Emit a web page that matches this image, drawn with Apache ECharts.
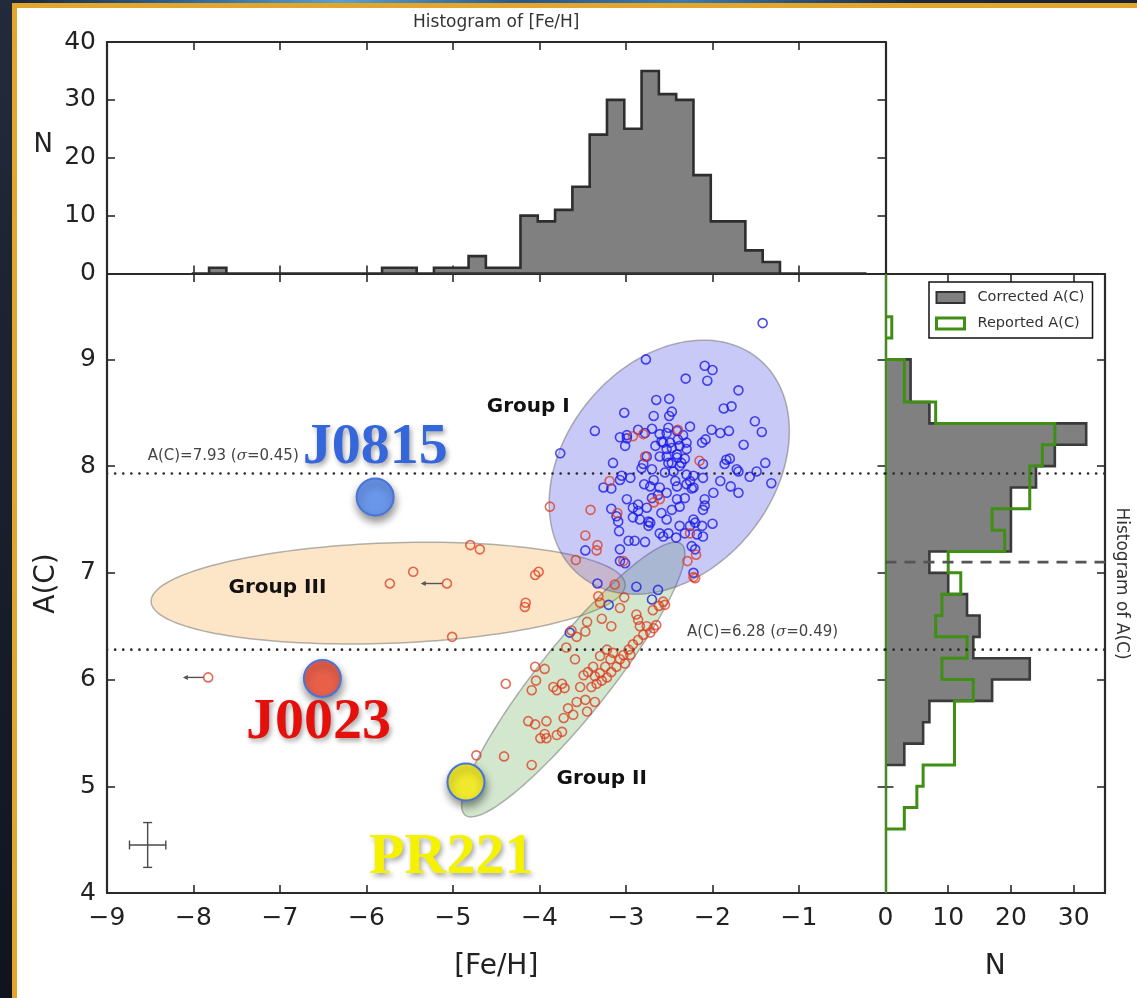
<!DOCTYPE html>
<html>
<head>
<meta charset="utf-8">
<title>A(C) vs [Fe/H]</title>
<script src="https://cdn.jsdelivr.net/npm/echarts@6/dist/echarts.min.js"></script>
<style>
html,body{margin:0;padding:0;width:1137px;height:998px;overflow:hidden;background:#131a27;}
#band{position:absolute;left:0;top:0;width:1137px;height:5px;background:linear-gradient(90deg,#1a2232 0%,#2f6494 16%,#5aa0d0 30%,#2a5684 46%,#3d7bb0 60%,#1c2a40 80%,#1a2232 100%);}
#side{position:absolute;left:0;top:0;width:13px;height:998px;background:linear-gradient(180deg,#222b3c 0%,#161d2b 60%,#0f1420 100%);}
#panel{position:absolute;left:12px;top:3px;right:0;bottom:0;background:#fff;border-left:5px solid #e2a62c;border-top:5px solid #e2a62c;}
#chart{position:absolute;left:0;top:0;width:1137px;height:998px;}
</style>
</head>
<body>
<div id="band"></div>
<div id="side"></div>
<div id="panel"></div>
<div id="chart"></div>
<script>
// ---- axis ticks ----
const feHTicks = [-9, -8, -7, -6, -5, -4, -3, -2, -1, 0];
const feHLabels = [-9, -8, -7, -6, -5, -4, -3, -2, -1];
const acTicks = [4, 5, 6, 7, 8, 9];
const nTicksTop = [0, 10, 20, 30, 40];
const nTicksRight = [0, 10, 20, 30];

// ---- [Fe/H] histogram (bin start, width, counts) ----
const feHBinStart = -8.02;
const feHBinWidth = 0.2;
const feHCounts = [0, 1, 0, 0, 0, 0, 0, 0, 0, 0, 0, 1, 1, 0, 1, 1, 3, 1, 1,
  10, 9, 11, 15, 24, 30, 25, 35, 31, 30, 17, 9, 9, 4, 2, 0, 0, 0, 0, 0];

// ---- A(C) histograms ----
const acBinStart = 4.0;
const acBinWidth = 0.2;
const acCorrected = [0, 0, 0, 0, 0, 0, 3, 6, 7, 17, 23, 14, 15, 13, 10, 7, 20, 20, 20, 24, 27, 32, 7, 4, 4, 0, 0, 0, 0];
const acReported = [0, 0, 0, 3, 5, 6, 11, 11, 11, 14, 9, 13, 8, 9, 12, 10, 19, 17, 23, 23, 25, 27, 8, 3, 3, 0, 1, 0, 0];

// ---- reference levels ----
const acMeans = [7.93, 6.28];
const acSigmas = [0.45, 0.49];
const acDivide = 7.1;

// ---- group regions: centre and two semi-axis vectors, in data units ----
const groupNames = ['Group I', 'Group II', 'Group III'];
const groupCenter = [[-2.50, 7.99], [-3.61, 6.00], [-5.75, 6.81]];
const groupAxisU = [[1.04, 1.01], [1.25, 1.27], [2.74, 0.08]];
const groupAxisV = [[-0.92, 0.63], [-0.32, 0.21], [-0.02, 0.47]];

// ---- stars: [Fe/H], A(C) ----
const starsBlue = [
  [-1.42,9.34],[-2.77,9.00],[-2.09,8.94],[-2.00,8.90],[-2.31,8.82],[-2.06,8.80],[-1.70,8.71],[-2.65,8.62],[-2.50,8.63],
  [-1.87,8.54],[-1.78,8.56],[-3.02,8.50],[-2.68,8.47],[-2.50,8.47],[-2.47,8.51],[-1.51,8.42],[-3.36,8.33],[-2.26,8.37],
  [-2.01,8.34],[-1.91,8.31],[-1.81,8.33],[-1.43,8.32],[-2.86,8.34],[-2.70,8.35],[-3.07,8.27],[-2.99,8.29],[-2.61,8.30],
  [-2.53,8.31],[-2.41,8.33],[-2.34,8.29],[-1.64,8.20],[-2.12,8.22],[-2.08,8.25],[-3.01,8.19],[-2.57,8.22],[-2.47,8.17],
  [-2.38,8.19],[-3.76,8.12],[-2.76,8.09],[-2.53,8.09],[-2.41,8.11],[-2.32,8.07],[-1.80,8.07],[-1.39,8.03],[-3.15,8.03],
  [-2.80,8.02],[-2.51,8.03],[-2.36,8.03],[-2.11,8.02],[-1.86,8.02],[-1.70,7.95],[-1.57,7.90],[-1.32,7.84],[-3.26,7.80],
  [-3.17,7.79],[-3.07,7.87],[-2.95,7.89],[-2.79,7.83],[-2.68,7.87],[-2.43,7.86],[-2.26,7.86],[-2.24,7.79],[-2.11,7.89],
  [-1.91,7.86],[-1.79,7.81],[-1.70,7.75],[-2.61,7.80],[-2.53,7.75],[-2.41,7.81],[-2.99,7.69],[-2.70,7.70],[-2.41,7.69],
  [-2.32,7.70],[-2.09,7.69],[-1.99,7.75],[-3.17,7.60],[-2.92,7.61],[-2.86,7.58],[-2.76,7.61],[-2.59,7.56],[-2.47,7.59],
  [-2.38,7.62],[-2.11,7.59],[-2.09,7.63],[-3.09,7.48],[-2.92,7.52],[-2.74,7.48],[-2.53,7.50],[-2.22,7.50],[-2.00,7.46],
  [-3.08,7.39],[-2.74,7.44],[-2.61,7.37],[-2.38,7.44],[-2.32,7.37],[-2.97,7.30],[-2.90,7.30],[-2.78,7.29],[-2.57,7.34],
  [-2.42,7.33],[-2.11,7.34],[-3.47,7.21],[-2.20,7.22],[-3.01,7.09],[-3.33,6.90],[-2.88,6.87],[-2.22,7.00],
  [-2.99,8.26],[-2.78,8.31],[-2.51,8.36],[-2.59,8.23],[-2.49,8.22],[-2.40,8.25],[-2.30,8.22],[-2.66,8.19],[-2.53,8.16],
  [-2.30,8.16],[-2.61,8.09],[-2.41,8.08],[-2.47,8.03],[-2.38,8.00],[-2.82,7.98],[-2.70,7.97],[-2.55,7.94],[-2.45,7.95],
  [-2.30,7.92],[-2.22,7.91],[-3.05,7.91],[-2.72,7.81],[-2.30,7.83],[-2.22,7.80],[-2.86,7.64],[-2.63,7.73],[-3.11,7.53],
  [-2.84,7.50],[-2.72,7.47],[-2.20,7.47],[-2.51,7.37],[-2.26,7.44],[-2.18,7.36],[-2.12,7.44],[-1.84,8.06],[-1.72,7.97],
  [-1.49,7.95],[-3.07,7.11],[-2.63,6.84],[-2.70,6.75],[-3.20,6.70],[-3.65,6.44],[-3.07,7.22],[-2.24,7.25]
];
const starsRed = [
  [-3.88,7.62],[-3.41,7.59],[-3.47,7.35],[-3.33,7.26],[-3.34,7.21],[-3.58,7.12],[-3.03,7.11],[-3.19,7.86],[-3.10,7.56],
  [-2.68,7.66],[-2.61,7.69],[-2.78,8.09],[-2.15,8.05],[-2.40,8.34],[-2.92,8.28],[-2.80,8.30],[-2.26,7.37],[-2.19,7.17],
  [-2.29,7.11],[-2.22,6.96],[-4.05,6.98],[-4.01,7.01],[-3.13,6.89],[-4.80,7.26],[-4.69,7.22],[-4.16,6.72],[-4.17,6.68],
  [-5.01,6.40],[-5.46,7.01],[-5.73,6.90],[-5.07,6.90],[-7.83,6.02],[-4.73,5.29],[-4.41,5.28],[-4.09,5.20],
  [-2.20,6.95],[-3.30,6.72],[-3.32,6.78],[-3.07,6.67],[-3.02,6.77],[-2.88,6.61],[-2.86,6.56],[-2.69,6.65],[-2.62,6.69],
  [-2.55,6.70],[-2.57,6.73],[-3.45,6.54],[-3.28,6.57],[-3.63,6.46],[-3.17,6.50],[-3.57,6.40],[-3.47,6.45],[-2.84,6.50],
  [-2.76,6.50],[-2.68,6.48],[-2.65,6.51],[-2.80,6.42],[-2.72,6.44],[-2.86,6.37],[-2.92,6.33],[-2.97,6.28],[-3.03,6.23],
  [-3.07,6.19],[-2.95,6.23],[-3.01,6.15],[-3.11,6.12],[-3.17,6.07],[-3.22,6.02],[-3.28,5.99],[-3.34,5.96],[-3.40,5.93],
  [-3.30,6.06],[-3.24,6.12],[-3.18,6.19],[-3.15,6.25],[-3.22,6.28],[-3.30,6.22],[-3.38,6.12],[-3.44,6.07],[-3.49,6.04],
  [-3.36,6.03],[-3.59,6.19],[-3.69,6.30],[-4.05,6.12],[-3.94,6.10],[-4.39,5.96],[-4.04,5.99],[-4.09,5.90],[-3.84,5.93],
  [-3.74,5.96],[-3.71,5.92],[-3.80,5.90],[-3.53,5.93],[-3.57,5.79],[-3.47,5.81],[-3.36,5.79],[-3.45,5.70],[-3.67,5.73],
  [-3.61,5.67],[-3.72,5.64],[-4.13,5.61],[-4.05,5.58],[-3.92,5.61],[-3.99,5.45],[-3.92,5.45],[-3.94,5.49],[-3.80,5.48],
  [-3.74,5.51]
];
// upper limits in [Fe/H]: star and arrow length (dex)
const limitStars = [[-7.83, 6.02], [-5.07, 6.90]];
const limitLength = [0.27, 0.28];

// typical uncertainty
const errCenter = [-8.53, 4.45];
const errHalf = [0.21, 0.21];

// highlighted stars
const tagNames = ['J0815', 'J0023', 'PR221'];
const tagFeH = [-5.90, -6.51, -4.85];
const tagAC = [7.71, 6.01, 5.04];

// ---- annotation placement (data units) ----
const tagTextAt = [[-5.90, 8.17], [-6.555, 5.595], [-5.02, 4.33]];
const groupTextAt = [[-4.13, 8.56], [-3.28, 5.07], [-7.03, 6.86]];
const meanTextAt = [[-8.53, 8.09], [-2.295, 6.44]];

// ---- styles ----
const INK = '#2a2a2a';
const SANS = 'DejaVu Sans';
const groupFill = ['rgba(60,60,228,0.28)', 'rgba(80,160,60,0.25)', 'rgba(245,165,55,0.28)'];
const tagText = ['#3566dc', '#e3100c', '#f5f200'];
const tagFill = ['#6a97ea', '#e8604a', '#efe82c'];

function minusFmt(v) { return v < 0 ? '\u2212' + Math.abs(v) : String(v); }

function axis(extra) {
  const base = {
    type: 'value',
    splitLine: { show: false },
    axisLine: { show: true, onZero: false, lineStyle: { color: INK, width: 2.2 } },
    axisTick: { show: true, inside: true, length: 8, lineStyle: { color: INK, width: 1.6 } },
    axisLabel: { show: false },
    axisPointer: { show: false }
  };
  return Object.assign(base, extra);
}
function ticks(values) {
  return { show: true, inside: true, length: 8, customValues: values, lineStyle: { color: INK, width: 1.6 } };
}
const labelFont = { fontFamily: SANS, fontSize: 25, color: '#222' };
const nameFont = { fontFamily: SANS, fontSize: 28, color: '#222' };
const smallName = { fontFamily: SANS, fontSize: 17, color: '#333' };

const xAxes = [
  axis({ gridIndex: 0, position: 'bottom', min: -9, max: 0, axisTick: ticks(feHTicks),
    axisLabel: Object.assign({ show: true, customValues: feHLabels, formatter: minusFmt, margin: 13 }, labelFont),
    name: '[Fe/H]', nameLocation: 'middle', nameGap: 60, nameTextStyle: nameFont }),
  axis({ gridIndex: 0, position: 'top', min: -9, max: 0, axisTick: ticks(feHTicks) }),
  axis({ gridIndex: 1, position: 'bottom', min: -9, max: 0, axisTick: ticks(feHTicks) }),
  axis({ gridIndex: 1, position: 'top', min: -9, max: 0, axisTick: ticks(feHTicks),
    name: 'Histogram of [Fe/H]', nameLocation: 'middle', nameGap: 11, nameTextStyle: smallName }),
  axis({ gridIndex: 2, position: 'bottom', min: 0, max: 35, axisTick: ticks(nTicksRight),
    axisLabel: Object.assign({ show: true, customValues: nTicksRight, margin: 13 }, labelFont),
    name: 'N', nameLocation: 'middle', nameGap: 60, nameTextStyle: nameFont }),
  axis({ gridIndex: 2, position: 'top', min: 0, max: 35, axisTick: ticks(nTicksRight) })
];
const yAxes = [
  axis({ gridIndex: 0, position: 'left', min: 4, max: 9.8, axisTick: ticks(acTicks),
    axisLabel: Object.assign({ show: true, customValues: acTicks, margin: 11 }, labelFont),
    name: 'A(C)', nameLocation: 'middle', nameGap: 46, nameTextStyle: nameFont }),
  axis({ gridIndex: 0, position: 'right', min: 4, max: 9.8, axisTick: ticks(acTicks) }),
  axis({ gridIndex: 1, position: 'left', min: 0, max: 40, axisTick: ticks(nTicksTop),
    axisLabel: Object.assign({ show: true, customValues: nTicksTop, margin: 11 }, labelFont),
    name: 'N', nameLocation: 'middle', nameRotate: 0, nameGap: 54,
    nameTextStyle: Object.assign({}, nameFont, { fontSize: 26, verticalAlign: 'bottom' }) }),
  axis({ gridIndex: 1, position: 'right', min: 0, max: 40, axisTick: ticks(nTicksTop) }),
  axis({ gridIndex: 2, position: 'left', min: 4, max: 9.8, axisTick: ticks(acTicks) }),
  axis({ gridIndex: 2, position: 'right', min: 4, max: 9.8, axisTick: ticks(acTicks),
    name: 'Histogram of A(C)', nameLocation: 'middle', nameRotate: -90, nameGap: 8, nameTextStyle: smallName })
];

// stepped outline of a histogram, optionally lying along the y axis
function stepPolygon(api, start, width, counts, horizontal) {
  const P = (edge, n) => api.coord(horizontal ? [n, edge] : [edge, n]);
  const pts = [P(start, 0)];
  counts.forEach((n, i) => {
    pts.push(P(start + i * width, n));
    pts.push(P(start + (i + 1) * width, n));
  });
  pts.push(P(start + counts.length * width, 0));
  return pts;
}

// horizontal reference lines across one panel
function levelLines(xi, yi, xr, levels, styles) {
  return {
    type: 'custom', xAxisIndex: xi, yAxisIndex: yi, silent: true, z: 4, clip: true,
    data: levels.map(v => [xr[0], v]),
    renderItem: (p, api) => {
      const y = levels[p.dataIndex];
      const a = api.coord([xr[0], y]), b = api.coord([xr[1], y]);
      return { type: 'line', shape: { x1: a[0], y1: a[1], x2: b[0], y2: b[1] }, style: styles[p.dataIndex] };
    }
  };
}
const dotted = { stroke: '#2b2b2b', lineWidth: 2.6, lineDash: [0.1, 8], lineCap: 'round' };
const dashed = { stroke: '#555', lineWidth: 2.6, lineDash: [11, 8] };

const groupOrder = [2, 1, 0];

const series = [
  // group regions
  {
    type: 'custom', xAxisIndex: 0, yAxisIndex: 0, silent: true, z: 1, clip: true,
    data: groupOrder.map(i => groupCenter[i]),
    renderItem: (p, api) => {
      const i = groupOrder[p.dataIndex];
      const c = groupCenter[i], u = groupAxisU[i], v = groupAxisV[i];
      const pts = [];
      for (let k = 0; k < 160; k++) {
        const t = k / 160 * 2 * Math.PI, ct = Math.cos(t), st = Math.sin(t);
        pts.push(api.coord([c[0] + u[0] * ct + v[0] * st, c[1] + u[1] * ct + v[1] * st]));
      }
      return { type: 'polygon', shape: { points: pts },
        style: { fill: groupFill[i], stroke: 'rgba(105,105,105,0.5)', lineWidth: 1.5 } };
    }
  },
  levelLines(0, 0, [-9, 0], acMeans, [dotted, dotted]),
  levelLines(4, 4, [0, 35], acMeans.concat([acDivide]), [dotted, dotted, dashed]),
  // upper-limit arrows
  {
    type: 'custom', xAxisIndex: 0, yAxisIndex: 0, silent: true, z: 3,
    data: limitStars,
    renderItem: (p, api) => {
      const s = limitStars[p.dataIndex];
      const a = api.coord(s), b = api.coord([s[0] - limitLength[p.dataIndex], s[1]]);
      const st = { stroke: '#555', lineWidth: 1.4 };
      return { type: 'group', children: [
        { type: 'line', shape: { x1: a[0] - 4.5, y1: a[1], x2: b[0], y2: b[1] }, style: st },
        { type: 'polygon', shape: { points: [[b[0] - 2, b[1]], [b[0] + 3, b[1] - 2.5], [b[0] + 3, b[1] + 2.5]] },
          style: { fill: '#555' } }
      ] };
    }
  },
  {
    name: 'blue', type: 'scatter', xAxisIndex: 0, yAxisIndex: 0, z: 5, silent: true,
    symbol: 'circle', symbolSize: 9, data: starsBlue,
    itemStyle: { opacity: 1, color: 'rgba(0,0,0,0)', borderColor: 'rgba(25,25,232,0.78)', borderWidth: 1.6 }
  },
  {
    name: 'red', type: 'scatter', xAxisIndex: 0, yAxisIndex: 0, z: 5, silent: true,
    symbol: 'circle', symbolSize: 9, data: starsRed,
    itemStyle: { opacity: 1, color: 'rgba(0,0,0,0)', borderColor: 'rgba(222,58,30,0.75)', borderWidth: 1.6 }
  },
  // typical uncertainty
  {
    type: 'custom', xAxisIndex: 0, yAxisIndex: 0, silent: true, z: 5,
    data: [errCenter],
    renderItem: (p, api) => {
      const l = api.coord([errCenter[0] - errHalf[0], errCenter[1]]);
      const r = api.coord([errCenter[0] + errHalf[0], errCenter[1]]);
      const t = api.coord([errCenter[0], errCenter[1] + errHalf[1]]);
      const b = api.coord([errCenter[0], errCenter[1] - errHalf[1]]);
      const st = { stroke: '#4a4a4a', lineWidth: 1.4 };
      const cap = 4.5;
      const L = (x1, y1, x2, y2) => ({ type: 'line', shape: { x1, y1, x2, y2 }, style: st });
      return { type: 'group', children: [
        L(l[0], l[1], r[0], r[1]), L(t[0], t[1], b[0], b[1]),
        L(l[0], l[1] - cap, l[0], l[1] + cap), L(r[0], r[1] - cap, r[0], r[1] + cap),
        L(t[0] - cap, t[1], t[0] + cap, t[1]), L(b[0] - cap, b[1], b[0] + cap, b[1])
      ] };
    }
  },
  // highlighted stars
  {
    type: 'scatter', xAxisIndex: 0, yAxisIndex: 0, z: 8, silent: true, symbolSize: 37,
    data: tagNames.map((n, i) => ({ name: n, value: [tagFeH[i], tagAC[i]],
      itemStyle: { opacity: 1, color: tagFill[i], borderColor: '#4674d8', borderWidth: 2,
        shadowBlur: 8, shadowColor: 'rgba(0,0,0,0.45)', shadowOffsetX: 1, shadowOffsetY: 5 } }))
  },
  // star names
  {
    type: 'scatter', xAxisIndex: 0, yAxisIndex: 0, z: 9, silent: true, symbolSize: 0,
    itemStyle: { opacity: 1 },
    data: tagNames.map((n, i) => ({ name: n, value: tagTextAt[i],
      label: { color: tagText[i] } })),
    label: { show: true, position: 'inside', formatter: p => p.name,
      fontFamily: 'Liberation Serif', fontWeight: 'bold', fontSize: 58,
      textShadowColor: 'rgba(0,0,0,0.35)', textShadowBlur: 5, textShadowOffsetX: 2, textShadowOffsetY: 3 }
  },
  // group names
  {
    type: 'scatter', xAxisIndex: 0, yAxisIndex: 0, z: 9, silent: true, symbolSize: 0,
    itemStyle: { opacity: 1 },
    data: groupNames.map((n, i) => ({ name: n, value: groupTextAt[i] })),
    label: { show: true, position: 'inside', formatter: p => p.name,
      fontFamily: SANS, fontWeight: 'bold', fontSize: 20, color: '#111' }
  },
  // mean levels
  {
    type: 'scatter', xAxisIndex: 0, yAxisIndex: 0, z: 9, silent: true, symbolSize: 0,
    itemStyle: { opacity: 1 },
    data: acMeans.map((m, i) => ({ name: 'A(C)=' + m.toFixed(2) + ' ({s|\u03c3}=' + acSigmas[i].toFixed(2) + ')',
      value: meanTextAt[i] })),
    label: { show: true, position: 'inside', align: 'left', formatter: p => p.name,
      fontFamily: SANS, fontSize: 15, color: '#444',
      rich: { s: { fontFamily: 'DejaVu Serif', fontStyle: 'italic', fontSize: 15, color: '#444' } } }
  },
  // [Fe/H] histogram
  {
    type: 'custom', xAxisIndex: 2, yAxisIndex: 2, silent: true, z: 2, clip: true,
    data: [[feHBinStart, 0]],
    renderItem: (p, api) => ({ type: 'polygon',
      shape: { points: stepPolygon(api, feHBinStart, feHBinWidth, feHCounts, false) },
      style: { fill: '#808080', stroke: '#2e2e2e', lineWidth: 2.6 } })
  },
  // A(C) histograms
  {
    name: 'Corrected A(C)', type: 'custom', xAxisIndex: 4, yAxisIndex: 4, silent: true, z: 2, clip: true,
    data: [[0, acBinStart]],
    renderItem: (p, api) => ({ type: 'polygon',
      shape: { points: stepPolygon(api, acBinStart, acBinWidth, acCorrected, true) },
      style: { fill: '#808080', stroke: '#3a3a3a', lineWidth: 2.6 } })
  },
  {
    name: 'Reported A(C)', type: 'custom', xAxisIndex: 4, yAxisIndex: 4, silent: true, z: 3, clip: true,
    data: [[0, acBinStart]],
    renderItem: (p, api) => ({ type: 'polygon',
      shape: { points: stepPolygon(api, acBinStart, acBinWidth, acReported, true) },
      style: { fill: 'rgba(0,0,0,0)', stroke: '#3f8f14', lineWidth: 3 } })
  }
];

const chart = echarts.init(document.getElementById('chart'), null, { renderer: 'canvas' });
chart.setOption({
  animation: false,
  backgroundColor: 'transparent',
  textStyle: { fontFamily: SANS },
  grid: [
    { left: 107, top: 274, width: 778.5, height: 619, outerBoundsMode: 'none' },
    { left: 107, top: 42, width: 778.5, height: 231.5, outerBoundsMode: 'none' },
    { left: 885.5, top: 274, width: 219.5, height: 619, outerBoundsMode: 'none' }
  ],
  xAxis: xAxes,
  yAxis: yAxes,
  legend: {
    orient: 'vertical', left: 929, top: 282, itemWidth: 28, itemHeight: 11, itemGap: 11,
    padding: [8, 8, 7, 6], borderColor: '#111', borderWidth: 1.5, backgroundColor: '#fff',
    selectedMode: false,
    textStyle: { fontFamily: SANS, fontSize: 14.5, color: '#333', padding: [0, 0, 0, 8] },
    data: [
      { name: 'Corrected A(C)', icon: 'rect', itemStyle: { color: '#808080', borderColor: '#333', borderWidth: 2 } },
      { name: 'Reported A(C)', icon: 'rect', itemStyle: { color: '#fff', borderColor: '#3f8f14', borderWidth: 3 } }
    ]
  },
  series: series
});
</script>
</body>
</html>
